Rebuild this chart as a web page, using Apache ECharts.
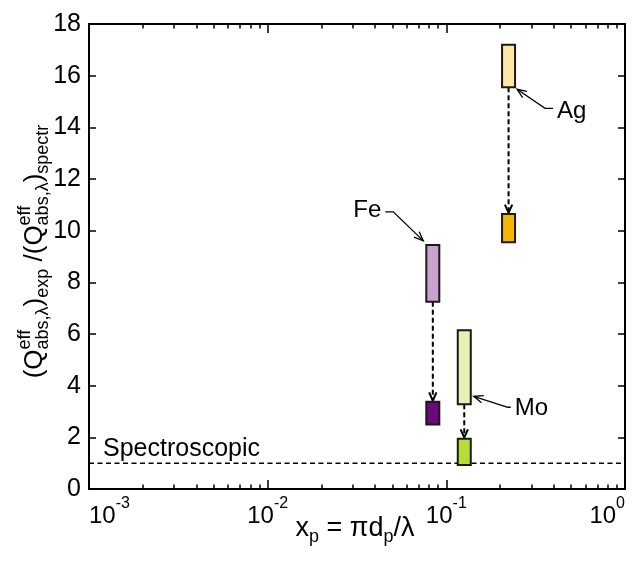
<!DOCTYPE html>
<html>
<head>
<meta charset="utf-8">
<script src="https://cdn.jsdelivr.net/npm/echarts@6/dist/echarts.min.js"></script>
<style>
  html, body { margin: 0; padding: 0; background: #fff; }
  #chart { width: 644px; height: 561px; }
</style>
</head>
<body>
<div id="chart"></div>
<script>
// ---- data ----
const metals = ['Fe', 'Mo', 'Ag'];
const xpValues = [0.084, 0.126, 0.223];          // size parameter x_p
const expLow = [7.25, 3.28, 15.55];              // experimental ratio range
const expHigh = [9.45, 6.15, 17.2];
const spectrLow = [2.5, 0.93, 9.55];             // ratio after spectroscopic correction
const spectrHigh = [3.38, 1.95, 10.65];
const spectroscopicLevel = 1;
const spectroscopicLabel = 'Spectroscopic';
const xRange = [1e-3, 1];
const yRange = [0, 18];
const yStep = 2;

// ---- styles ----
const FONT = '"Liberation Sans", Arial, Helvetica, sans-serif';
const expColors = ['#c9a2ce', '#e4f3b5', '#fde7a6'];
const spectrColors = ['#6a0a7d', '#b5dd33', '#f6b600'];
const BOX_W = 13;
// leader lines for the metal labels (pixel offsets from the box corner)
const leaders = {
  Fe: { end: 'top', side: -1, tip: [-3, -4], elbow: [-30, -29], tail: [-8, 0], text: [-4, -2], align: 'right' },
  Mo: { end: 'bottom', side: 1, tip: [3, -8], elbow: [34, 11], tail: [3, 0], text: [4, 1], align: 'left' },
  Ag: { end: 'bottom', side: 1, tip: [2, 2], elbow: [28, 19], tail: [8, 0], text: [4, 3], align: 'left' }
};

const minorTicks = [];
for (let d = -3; d < 0; d++) {
  for (let m = 2; m <= 9; m++) minorTicks.push(+(m * Math.pow(10, d)).toPrecision(3));
}

const measureCtx = document.createElement('canvas').getContext('2d');
function textWidth(t, size) {
  measureCtx.font = size + 'px ' + FONT;
  return measureCtx.measureText(t).width;
}
// lays out a formula made of base-line pieces, sub/superscripts and stacked scripts
function layoutMath(pieces) {
  let u = 0;
  const children = [];
  pieces.forEach(p => {
    const parts = p.stack || [p];
    let adv = 0;
    parts.forEach(q => {
      const shift = q.shift || 0;
      children.push({
        type: 'text', x: u, y: shift - 0.31 * q.size,
        style: { text: q.t, fontSize: q.size, fontFamily: FONT, fill: '#000', align: 'left', verticalAlign: 'middle' }
      });
      adv = Math.max(adv, textWidth(q.t, q.size));
    });
    u += adv;
  });
  return { children, width: u };
}

function openArrowHead(tip, from, len, half) {
  const ang = Math.atan2(tip[1] - from[1], tip[0] - from[0]);
  const a1 = ang + Math.PI - half, a2 = ang + Math.PI + half;
  return [
    [tip[0] + len * Math.cos(a1), tip[1] + len * Math.sin(a1)],
    tip,
    [tip[0] + len * Math.cos(a2), tip[1] + len * Math.sin(a2)]
  ];
}

const chart = echarts.init(document.getElementById('chart'), null, { renderer: 'canvas' });

const grid = { left: 89, right: 19, top: 24, bottom: 72 };

function logLabel(v) {
  const e = Math.round(Math.log10(v));
  return '{b|10}{s|' + e + '}';
}

const axisLineStyle = { color: '#000', width: 2 };
const commonX = { type: 'log', logBase: 10, min: xRange[0], max: xRange[1], splitLine: { show: false }, gridIndex: 0 };

const boxData = [];
metals.forEach((m, i) => {
  boxData.push([xpValues[i], expLow[i], expHigh[i], expColors[i]]);
  boxData.push([xpValues[i], spectrLow[i], spectrHigh[i], spectrColors[i]]);
});
const arrowData = metals.map((m, i) => [xpValues[i], expLow[i], spectrHigh[i]]);
const labelData = metals.map((m, i) => {
  const L = leaders[m];
  return [xpValues[i], L.end === 'top' ? expHigh[i] : expLow[i], i];
});

// y-axis title
const M = 26, S = 18;
const yTitle = layoutMath([
  { t: '(', size: M }, { t: 'Q', size: M },
  { stack: [{ t: 'eff', size: S, shift: -12 }, { t: 'abs,λ', size: S, shift: 6 }] },
  { t: ')', size: M }, { t: 'exp', size: S, shift: 6 },
  { t: ' /(', size: M }, { t: 'Q', size: M },
  { stack: [{ t: 'eff', size: S, shift: -12 }, { t: 'abs,λ', size: S, shift: 6 }] },
  { t: ')', size: M }, { t: 'spectr', size: S, shift: 6 }
]);
const xTitle = layoutMath([
  { t: 'x', size: 27 }, { t: 'p', size: 18, shift: 6 },
  { t: ' = πd', size: 27 }, { t: 'p', size: 18, shift: 6 }, { t: '/λ', size: 27 }
]);
const plotMidY = grid.top + (561 - grid.top - grid.bottom) / 2;
const plotMidX = grid.left + (644 - grid.left - grid.right) / 2;

const option = {
  backgroundColor: '#fff',
  animation: false,
  grid: grid,
  xAxis: [
    Object.assign({}, commonX, {
      position: 'bottom',
      axisLine: { show: true, onZero: false, lineStyle: axisLineStyle },
      axisTick: { show: true, inside: true, length: 9, lineStyle: { color: '#000', width: 1.5 } },
      axisLabel: {
        show: true, margin: 7, color: '#000', formatter: logLabel,
        alignMinLabel: 'left', alignMaxLabel: 'right',
        rich: {
          b: { fontSize: 24, fontFamily: FONT, color: '#000', lineHeight: 32, verticalAlign: 'bottom' },
          s: { fontSize: 16, fontFamily: FONT, color: '#000', lineHeight: 16, verticalAlign: 'top' }
        }
      }
    }),
    Object.assign({}, commonX, {
      position: 'bottom',
      axisLine: { show: false, onZero: false },
      axisTick: { show: true, inside: true, length: 4.5, customValues: minorTicks, lineStyle: { color: '#000', width: 1.5 } },
      axisLabel: { show: false }
    }),
    Object.assign({}, commonX, {
      position: 'top',
      axisLine: { show: true, onZero: false, lineStyle: axisLineStyle },
      axisTick: { show: true, inside: true, length: 9, lineStyle: { color: '#000', width: 1.5 } },
      axisLabel: { show: false }
    }),
    Object.assign({}, commonX, {
      position: 'top',
      axisLine: { show: false, onZero: false },
      axisTick: { show: true, inside: true, length: 4.5, customValues: minorTicks, lineStyle: { color: '#000', width: 1.5 } },
      axisLabel: { show: false }
    })
  ],
  yAxis: [
    {
      type: 'value', position: 'left', min: yRange[0], max: yRange[1], interval: yStep,
      splitLine: { show: false },
      axisLine: { show: true, onZero: false, lineStyle: axisLineStyle },
      axisTick: { show: true, inside: true, length: 7, lineStyle: { color: '#000', width: 1.5 } },
      axisLabel: { show: true, margin: 8, color: '#000', fontSize: 25, fontFamily: FONT }
    },
    {
      type: 'value', position: 'right', min: yRange[0], max: yRange[1], interval: yStep,
      splitLine: { show: false },
      axisLine: { show: true, onZero: false, lineStyle: axisLineStyle },
      axisTick: { show: true, inside: true, length: 7, lineStyle: { color: '#000', width: 1.5 } },
      axisLabel: { show: false }
    }
  ],
  graphic: [
    { type: 'group', x: 43, y: plotMidY - 5 + yTitle.width / 2, rotation: Math.PI / 2, children: yTitle.children },
    { type: 'group', x: plotMidX - 2 - xTitle.width / 2, y: 537, children: xTitle.children }
  ],
  series: [
    {
      // spectroscopic reference level
      type: 'line', xAxisIndex: 0, yAxisIndex: 0, z: 1,
      data: [[xRange[0], spectroscopicLevel], [xRange[1], spectroscopicLevel]],
      symbol: 'none', silent: true,
      lineStyle: { color: '#000', width: 1.5, type: [5, 3.5] }
    },
    {
      type: 'custom', xAxisIndex: 0, yAxisIndex: 0, z: 2, silent: true,
      data: [[xRange[0], spectroscopicLevel]],
      renderItem: function (params, api) {
        const p = api.coord([api.value(0), api.value(1)]);
        const fs = 25;
        return {
          type: 'text', x: p[0] + 14, y: p[1] - 6 - 0.31 * fs,
          style: { text: spectroscopicLabel, fontSize: fs, fontFamily: FONT, fill: '#000', align: 'left', verticalAlign: 'middle' }
        };
      }
    },
    {
      // dashed arrows from experimental to corrected ranges
      type: 'custom', xAxisIndex: 0, yAxisIndex: 0, z: 3, silent: true,
      data: arrowData,
      renderItem: function (params, api) {
        const a = api.coord([api.value(0), api.value(1)]);
        const b = api.coord([api.value(0), api.value(2)]);
        const tip = [b[0], b[1] - 1];
        return {
          type: 'group',
          children: [
            { type: 'line', shape: { x1: a[0], y1: a[1], x2: tip[0], y2: tip[1] - 2 },
              style: { stroke: '#000', lineWidth: 2, lineDash: [5, 3] } },
            { type: 'polyline', shape: { points: openArrowHead(tip, a, 9, 0.42) },
              style: { stroke: '#000', lineWidth: 2, fill: null } }
          ]
        };
      }
    },
    {
      // experimental and corrected ranges
      type: 'custom', xAxisIndex: 0, yAxisIndex: 0, z: 4, silent: true,
      data: boxData,
      renderItem: function (params, api) {
        const top = api.coord([api.value(0), api.value(2)]);
        const bot = api.coord([api.value(0), api.value(1)]);
        return {
          type: 'rect',
          shape: { x: top[0] - BOX_W / 2, y: top[1], width: BOX_W, height: bot[1] - top[1] },
          style: { fill: boxData[params.dataIndex][3], stroke: '#1a1a1a', lineWidth: 2 }
        };
      }
    },
    {
      // metal labels with leader arrows
      type: 'custom', xAxisIndex: 0, yAxisIndex: 0, z: 5, silent: true,
      data: labelData,
      renderItem: function (params, api) {
        const name = metals[api.value(2)];
        const L = leaders[name];
        const c = api.coord([api.value(0), api.value(1)]);
        const corner = [c[0] + L.side * BOX_W / 2, c[1]];
        const tip = [corner[0] + L.tip[0], corner[1] + L.tip[1]];
        const elbow = [tip[0] + L.elbow[0], tip[1] + L.elbow[1]];
        const end = [elbow[0] + L.tail[0], elbow[1] + L.tail[1]];
        return {
          type: 'group',
          children: [
            { type: 'polyline', shape: { points: [end, elbow, tip] }, style: { stroke: '#000', lineWidth: 1.3, fill: null } },
            { type: 'polyline', shape: { points: openArrowHead(tip, elbow, 10, 0.38) }, style: { stroke: '#000', lineWidth: 1.3, fill: null } },
            { type: 'text', x: end[0] + L.text[0], y: end[1] + L.text[1],
              style: { text: name, fontSize: 24, fontFamily: FONT, fill: '#000', align: L.align, verticalAlign: 'middle' } }
          ]
        };
      }
    }
  ]
};

chart.setOption(option);
</script>
</body>
</html>
